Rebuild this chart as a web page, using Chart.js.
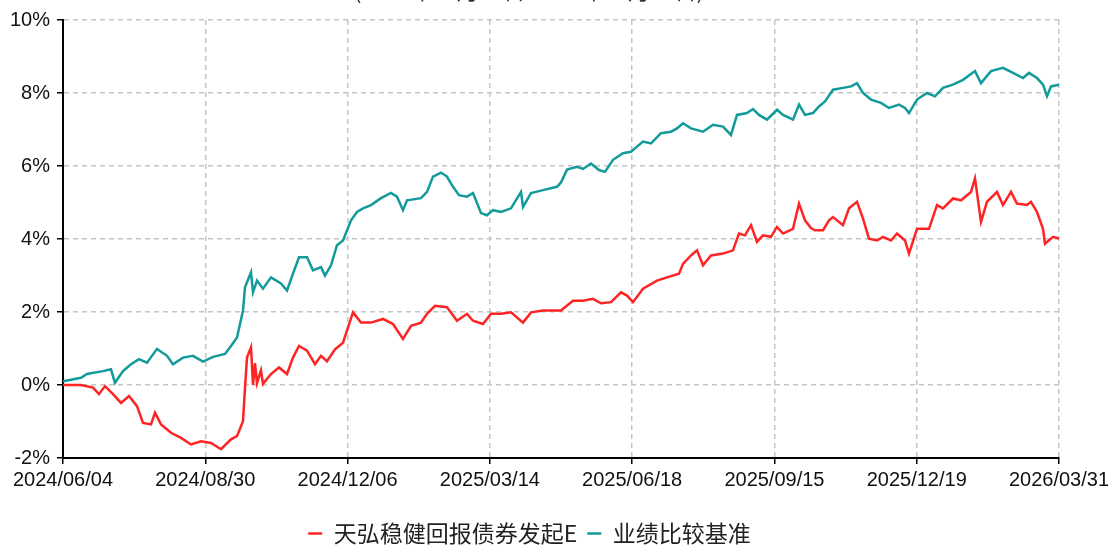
<!DOCTYPE html>
<html>
<head>
<meta charset="utf-8">
<script src="https://cdn.jsdelivr.net/npm/chart.js@4/dist/chart.umd.min.js"></script>
<style>
  html, body { margin: 0; padding: 0; background: #fff; }
  #wrap { width: 1111px; height: 545px; }
</style>
</head>
<body>
<div id="wrap"><canvas id="line-chart" width="1111" height="545"></canvas></div>
<script>
// x axis: trading-day sample index, ticks evenly spaced
var dateTicks = ["2024/06/04", "2024/08/30", "2024/12/06", "2025/03/14", "2025/06/18", "2025/09/15", "2025/12/19", "2026/03/31"];
var lastDay = 498;
var yTicks = [-2, 0, 2, 4, 6, 8, 10];

var fundName = "天弘稳健回报债券发起E";
var benchName = "业绩比较基准";

// 天弘稳健回报债券发起E cumulative return (%)
var fundDay = [0, 9, 15, 18, 21, 25, 29, 33, 37, 40, 44, 46, 49, 54, 59, 64, 69, 74, 79, 84,
  87, 90, 91, 92, 94, 95, 96, 97, 99, 100, 104, 108, 112, 115, 118, 122, 126, 129, 132, 136,
  140, 145, 149, 154, 160, 165, 170, 174, 179, 182, 186, 192, 197, 202, 205, 210, 214, 219, 224, 230,
  234, 240, 249, 255, 260, 265, 269, 274, 279, 282, 285, 290, 297, 302, 308, 310, 314, 317, 320, 324,
  330, 335, 338, 341, 344, 347, 350, 354, 357, 360, 365, 368, 371, 374, 376, 380, 383, 385, 390, 393,
  397, 400, 403, 407, 410, 414, 417, 421, 423, 427, 433, 437, 440, 445, 449, 454, 456, 459, 462, 467,
  470, 474, 477, 482, 484, 487, 490, 491, 495, 498];
var fundValue = [0.00, 0.00, -0.07, -0.25, -0.03, -0.25, -0.49, -0.30, -0.58, -1.04, -1.08, -0.76, -1.08, -1.31, -1.45, -1.63, -1.54, -1.59, -1.76, -1.49,
  -1.40, -0.99, -0.07, 0.75, 1.03, 0.00, 0.60, 0.05, 0.40, 0.03, 0.30, 0.48, 0.30, 0.75, 1.07, 0.94, 0.57, 0.80, 0.65, 0.98,
  1.16, 1.99, 1.71, 1.71, 1.81, 1.67, 1.26, 1.62, 1.71, 1.95, 2.17, 2.13, 1.76, 1.95, 1.76, 1.67, 1.95, 1.95, 1.99, 1.71,
  1.99, 2.04, 2.04, 2.31, 2.31, 2.36, 2.24, 2.27, 2.54, 2.45, 2.27, 2.64, 2.86, 2.95, 3.05, 3.32, 3.55, 3.69, 3.28, 3.55,
  3.60, 3.69, 4.15, 4.10, 4.38, 3.92, 4.10, 4.06, 4.33, 4.15, 4.28, 4.97, 4.51, 4.30, 4.24, 4.24, 4.51, 4.60, 4.38, 4.84,
  5.02, 4.56, 4.01, 3.96, 4.06, 3.96, 4.15, 3.96, 3.60, 4.28, 4.28, 4.93, 4.84, 5.11, 5.06, 5.29, 5.66, 4.47, 5.02, 5.29,
  4.93, 5.29, 4.97, 4.93, 5.02, 4.74, 4.28, 3.87, 4.06, 4.01];

// 业绩比较基准 cumulative return (%)
var benchDay = [0, 9, 12, 20, 24, 26, 30, 34, 38, 42, 47, 52, 55, 60, 65, 70, 75, 81, 84, 87,
  90, 91, 94, 95, 97, 100, 104, 109, 112, 115, 118, 122, 125, 129, 131, 134, 137, 140, 144, 147,
  150, 154, 159, 164, 167, 170, 172, 179, 182, 185, 189, 192, 195, 198, 202, 205, 209, 212, 215, 219,
  224, 229, 230, 234, 240, 247, 249, 252, 257, 260, 264, 268, 271, 275, 280, 284, 287, 290, 294, 299,
  304, 307, 310, 314, 320, 325, 330, 334, 337, 342, 345, 348, 352, 357, 360, 365, 368, 371, 375, 378,
  381, 385, 390, 394, 397, 400, 404, 409, 413, 418, 421, 423, 427, 432, 436, 440, 445, 450, 456, 459,
  464, 470, 475, 480, 483, 487, 490, 492, 494, 498];
var benchValue = [0.10, 0.20, 0.30, 0.38, 0.43, 0.06, 0.38, 0.57, 0.71, 0.61, 0.99, 0.80, 0.57, 0.75, 0.80, 0.64, 0.77, 0.85, 1.07, 1.30,
  2.04, 2.68, 3.09, 2.54, 2.86, 2.64, 2.95, 2.78, 2.59, 3.05, 3.50, 3.50, 3.14, 3.23, 3.00, 3.28, 3.83, 3.96, 4.51, 4.74,
  4.84, 4.93, 5.12, 5.26, 5.16, 4.79, 5.06, 5.12, 5.29, 5.71, 5.82, 5.71, 5.43, 5.20, 5.16, 5.26, 4.71, 4.65, 4.79, 4.74,
  4.84, 5.29, 4.88, 5.26, 5.34, 5.43, 5.55, 5.90, 5.98, 5.92, 6.07, 5.89, 5.84, 6.17, 6.35, 6.39, 6.53, 6.67, 6.62, 6.90,
  6.94, 7.03, 7.17, 7.03, 6.94, 7.13, 7.08, 6.85, 7.40, 7.45, 7.56, 7.40, 7.27, 7.54, 7.40, 7.27, 7.68, 7.40, 7.45, 7.63,
  7.77, 8.09, 8.14, 8.18, 8.27, 8.00, 7.82, 7.73, 7.59, 7.68, 7.59, 7.45, 7.82, 8.00, 7.91, 8.14, 8.23, 8.36, 8.60, 8.27,
  8.60, 8.69, 8.55, 8.41, 8.55, 8.41, 8.23, 7.91, 8.18, 8.23];

var subTitle = "(2024年06月04日-2026年03月31日)";

function toPoints(days, values) {
  return days.map(function (d, i) { return { x: d, y: values[i] }; });
}

// the title sits above the visible area, only its lower edge shows
var cutTitle = {
  id: 'cutTitle',
  afterDraw: function (c) {
    var ctx = c.ctx;
    ctx.save();
    ctx.font = '22px "Noto Sans CJK SC", sans-serif';
    ctx.fillStyle = '#333';
    ctx.textAlign = 'center';
    ctx.textBaseline = 'alphabetic';
    ctx.fillText(subTitle, 529, -1);
    ctx.restore();
  }
};

var ctx = document.getElementById('line-chart').getContext('2d');
var chart = new Chart(ctx, {
  type: 'line',
  data: {
    datasets: [{
      label: fundName,
      data: toPoints(fundDay, fundValue),
      borderColor: "#ff2424",
      backgroundColor: "#ff2424",
      borderWidth: 2.5,
      pointRadius: 0,
      tension: 0,
      fill: false
    }, {
      label: benchName,
      data: toPoints(benchDay, benchValue),
      borderColor: "#139a9a",
      backgroundColor: "#139a9a",
      borderWidth: 2.5,
      pointRadius: 0,
      tension: 0,
      fill: false
    }]
  },
  options: {
    responsive: false,
    animation: false,
    layout: { padding: { top: 20, right: 52, left: 0, bottom: -10 } },
    plugins: {
      title: { display: false },
      tooltip: { enabled: false },
      legend: {
        position: 'bottom',
        labels: {
          usePointStyle: true,
          pointStyle: 'line',
          pointStyleWidth: 14,
          boxWidth: 14,
          padding: 10,
          color: '#222',
          font: { family: '"Noto Sans CJK SC", sans-serif', size: 23 }
        }
      }
    },
    scales: {
      x: {
        type: 'linear',
        min: 0,
        max: lastDay,
        afterBuildTicks: function (scale) {
          scale.ticks = dateTicks.map(function (d, i) {
            return { value: i * lastDay / (dateTicks.length - 1) };
          });
        },
        afterFit: function (scale) {
          scale.paddingLeft = 0;
          scale.paddingRight = 0;
          scale.height = 54;
        },
        grid: {
          color: '#c4c4c4',
          lineWidth: 1.5,
          tickLength: 6,
          tickColor: '#000',
          tickWidth: 1.5
        },
        border: { display: true, color: '#000', width: 2, dash: [5, 4] },
        ticks: {
          autoSkip: false,
          maxRotation: 0,
          padding: 4,
          color: '#111',
          font: { family: '"Liberation Sans", Arial, sans-serif', size: 20 },
          callback: function (v, i) { return dateTicks[i]; }
        }
      },
      y: {
        min: yTicks[0],
        max: yTicks[yTicks.length - 1],
        afterBuildTicks: function (scale) {
          scale.ticks = yTicks.map(function (v) { return { value: v }; });
        },
        afterFit: function (scale) { scale.width = 63; },
        grid: {
          color: '#c4c4c4',
          lineWidth: 1.5,
          tickLength: 6,
          tickColor: '#000',
          tickWidth: 1.5
        },
        border: { display: true, color: '#000', width: 2, dash: [5, 4] },
        ticks: {
          padding: 7,
          color: '#111',
          font: { family: '"Liberation Sans", Arial, sans-serif', size: 20 },
          callback: function (v) { return v + '%'; }
        }
      }
    }
  },
  plugins: [cutTitle]
});
</script>
</body>
</html>
